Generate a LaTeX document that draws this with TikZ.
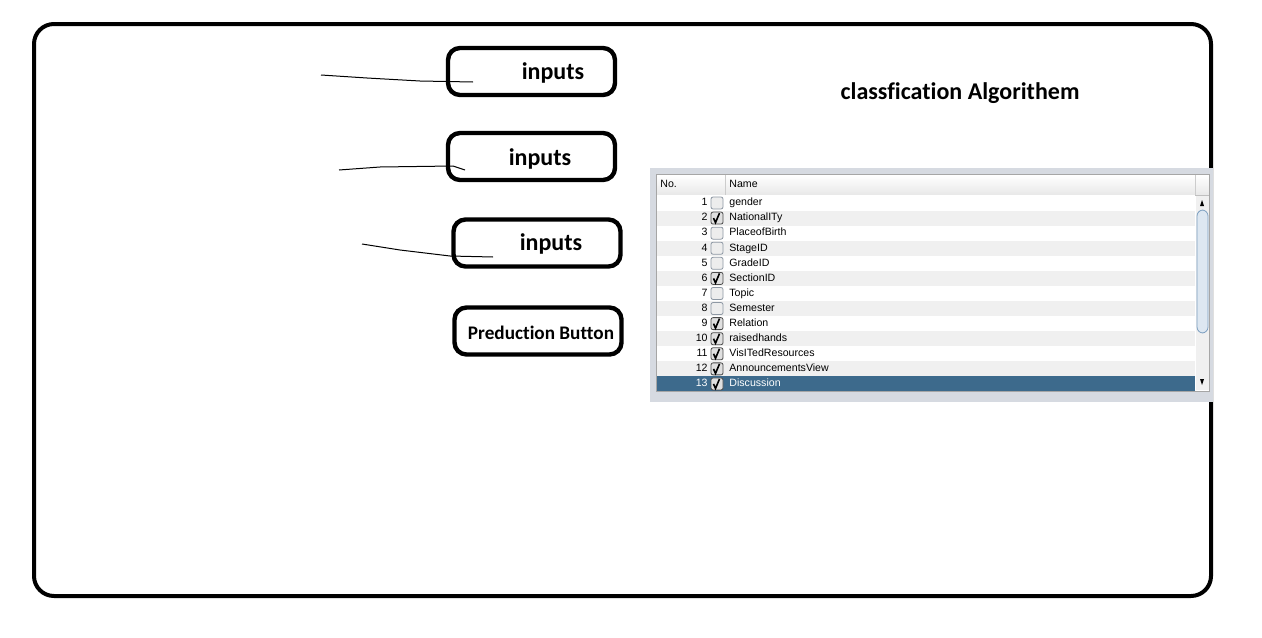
\documentclass[tikz,border=0pt]{standalone}
\usepackage{fontspec}
\setmainfont{Carlito}[Ligatures=NoCommon]
\newfontfamily\listfont{Liberation Sans}
\usetikzlibrary{positioning}
\definecolor{panelgrey}{HTML}{D6DAE1}
\definecolor{rowgrey}{HTML}{F0F0F0}
\definecolor{selblue}{HTML}{3D6A8C}
\definecolor{thumbblue}{HTML}{DDE7F1}
\definecolor{thumbedge}{HTML}{7C9FC0}
\definecolor{boxedge}{HTML}{8E98A4}
\tikzset{
  inbox/.style={draw, line width=2.2pt, rounded corners=6pt, minimum width=83.5pt, minimum height=23.5pt, inner sep=0pt},
  inlabel/.style={font=\bfseries\fontsize{12}{14}\selectfont, inner sep=0pt},
  wire/.style={line width=0.5pt},
  rowtext/.style={font=\listfont\fontsize{5.3}{6}\selectfont, inner sep=0pt, text height=3.9pt, text depth=1.1pt},
}

\begin{document}
\begin{tikzpicture}[x=0.5pt,y=-0.5pt]
		%%%%% START %%%%%
		\useasboundingbox (0,0) rectangle (1262,637);
		
		\draw[line width=2pt, rounded corners=10pt] (34,24) rectangle (1211,596);
		
		% input boxes
		\node[inbox] (in1) at (531.5,71.5) {};
		\node[inbox] (in2) at (531.5,156.5) {};
		\node[inbox] (in3) at (537,243) {};
		\node[inbox] (predbtn) at (538,331) {};
		\node[inlabel] (in1t) at (553,73) {inputs};
		\node[inlabel] (in2t) at (540,159) {inputs};
		\node[inlabel] (in3t) at (551,244) {inputs};
		\node[inlabel, font=\bfseries\fontsize{9.6}{11}\selectfont] (predt) at (541,333) {Preduction Button};
		
		\node[inlabel] (title) at (960,93) {classfication Algorithem};
		
		% hand drawn lines
		\coordinate (w1a) at (321,75);
		\coordinate (w1b) at (473,82);
		\coordinate (w2a) at (339,170);
		\coordinate (w2b) at (465,170);
		\coordinate (w3a) at (362,244);
		\coordinate (w3b) at (493,257);
		\draw[wire] (w1a) -- (367,78) -- (420,81) -- (w1b);
		\draw[wire] (w2a) -- (380,167) -- (453,166) -- (w2b);
		\draw[wire] (w3a) -- (400,250) -- (450,256) -- (w3b);
		
		% attribute list
		\fill[panelgrey] (650,168) rectangle (1213,402);
		\fill[white] (656,174) rectangle (1209,391);
		\shade[top color=white, bottom color=black!9] (656,175) rectangle (1209,195);
		\draw[black!25] (656,195) -- (1209,195);
		\draw[black!20] (725,175) -- (725,195);
		\draw[black!20] (1195,175) -- (1195,195);
		\node[rowtext, anchor=west] (hno) at (660,185) {No.};
		\node[rowtext, anchor=west] (hname) at (729,185) {Name};
		
		\foreach \n/\nm/\ck/\bg/\tc in {1/gender/0/white/black,2/NationalITy/1/rowgrey/black,3/PlaceofBirth/0/white/black,4/StageID/0/rowgrey/black,5/GradeID/0/white/black,6/SectionID/1/rowgrey/black,7/Topic/0/white/black,8/Semester/0/rowgrey/black,9/Relation/1/white/black,10/raisedhands/1/rowgrey/black,11/VisITedResources/1/white/black,12/AnnouncementsView/1/rowgrey/black,13/Discussion/1/selblue/white} {
			\pgfmathsetmacro\y{203+(\n-1)*15.08}
			\fill[\bg] (656,\y-7.54) rectangle (1195,\y+7.54);
			\node[rowtext, anchor=east, text=\tc] (no\n) at (708,\y) {\n};
			\node[rowtext, anchor=west, text=\tc] (nm\n) at (729,\y) {\nm};
			\ifnum\ck=1
				\draw[black!70, fill=black!12, rounded corners=1pt] (711,\y-6) rectangle (723,\y+6);
				\draw[black, line width=0.8pt] (713.5,\y) -- (715.5,\y+4.5) -- (719.5,\y-5);
			\else
				\draw[boxedge, fill=black!7, rounded corners=1pt] (711,\y-6) rectangle (723,\y+6);
			\fi
		}
		
		% scroll bar
		\fill[rowgrey] (1196,196) rectangle (1209,390);
		\draw[thumbedge, fill=thumbblue, rounded corners=3pt] (1197,210) rectangle (1208,333);
		\fill (1200,206) -- (1204,206) -- (1202,200) -- cycle;
		\fill (1200,379) -- (1204,379) -- (1202,385) -- cycle;
		\draw[black!35] (656,174) rectangle (1209,391);
		
		%%%%% END %%%%%
\end{tikzpicture}
\end{document}
